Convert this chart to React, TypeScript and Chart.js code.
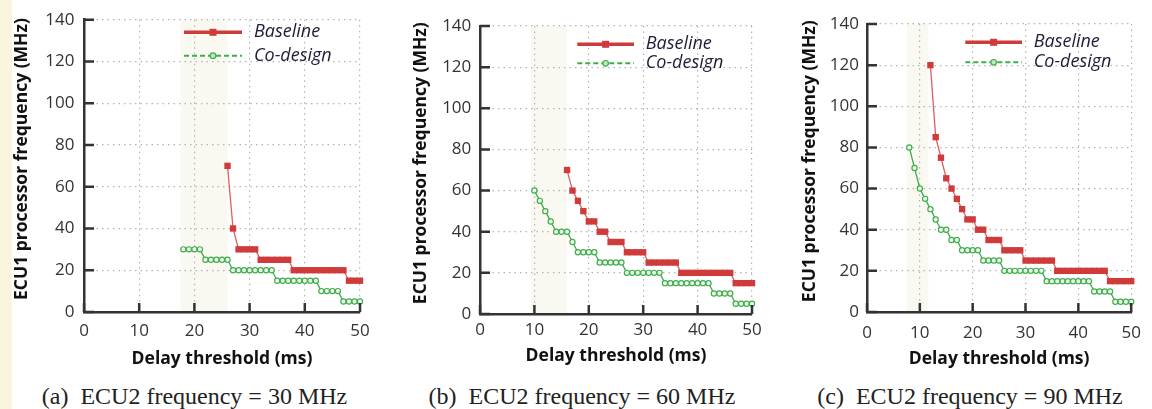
import React, { useEffect, useRef } from 'react';
import { Chart, registerables } from 'chart.js';

Chart.register(...registerables);

// ---------- data ----------
const xTickValues = [0, 10, 20, 30, 40, 50];
const yTickValues = [0, 20, 40, 60, 80, 100, 120, 140];

const baselineA_x = [26, 27, 28, 29, 30, 31, 32, 33, 34, 35, 36, 37, 38, 39, 40, 41, 42, 43, 44, 45, 46, 47, 48, 49, 50];
const baselineA_y = [70, 40, 30, 30, 30, 30, 25, 25, 25, 25, 25, 25, 20, 20, 20, 20, 20, 20, 20, 20, 20, 20, 15, 15, 15];
const codesignA_x = [18, 19, 20, 21, 22, 23, 24, 25, 26, 27, 28, 29, 30, 31, 32, 33, 34, 35, 36, 37, 38, 39, 40, 41, 42, 43, 44, 45, 46, 47, 48, 49, 50];
const codesignA_y = [30, 30, 30, 30, 25, 25, 25, 25, 25, 20, 20, 20, 20, 20, 20, 20, 20, 15, 15, 15, 15, 15, 15, 15, 15, 10, 10, 10, 10, 5, 5, 5, 5];

const baselineB_x = [16, 17, 18, 19, 20, 21, 22, 23, 24, 25, 26, 27, 28, 29, 30, 31, 32, 33, 34, 35, 36, 37, 38, 39, 40, 41, 42, 43, 44, 45, 46, 47, 48, 49, 50];
const baselineB_y = [70, 60, 55, 50, 45, 45, 40, 40, 35, 35, 35, 30, 30, 30, 30, 25, 25, 25, 25, 25, 25, 20, 20, 20, 20, 20, 20, 20, 20, 20, 20, 15, 15, 15, 15];
const codesignB_x = [10, 11, 12, 13, 14, 15, 16, 17, 18, 19, 20, 21, 22, 23, 24, 25, 26, 27, 28, 29, 30, 31, 32, 33, 34, 35, 36, 37, 38, 39, 40, 41, 42, 43, 44, 45, 46, 47, 48, 49, 50];
const codesignB_y = [60, 55, 50, 45, 40, 40, 40, 35, 30, 30, 30, 30, 25, 25, 25, 25, 25, 20, 20, 20, 20, 20, 20, 20, 15, 15, 15, 15, 15, 15, 15, 15, 15, 10, 10, 10, 10, 5, 5, 5, 5];

const baselineC_x = [12, 13, 14, 15, 16, 17, 18, 19, 20, 21, 22, 23, 24, 25, 26, 27, 28, 29, 30, 31, 32, 33, 34, 35, 36, 37, 38, 39, 40, 41, 42, 43, 44, 45, 46, 47, 48, 49, 50];
const baselineC_y = [120, 85, 75, 65, 60, 55, 50, 45, 45, 40, 40, 35, 35, 35, 30, 30, 30, 30, 25, 25, 25, 25, 25, 25, 20, 20, 20, 20, 20, 20, 20, 20, 20, 20, 15, 15, 15, 15, 15];
const codesignC_x = [8, 9, 10, 11, 12, 13, 14, 15, 16, 17, 18, 19, 20, 21, 22, 23, 24, 25, 26, 27, 28, 29, 30, 31, 32, 33, 34, 35, 36, 37, 38, 39, 40, 41, 42, 43, 44, 45, 46, 47, 48, 49, 50];
const codesignC_y = [80, 70, 60, 55, 50, 45, 40, 40, 35, 35, 30, 30, 30, 30, 25, 25, 25, 25, 20, 20, 20, 20, 20, 20, 20, 20, 15, 15, 15, 15, 15, 15, 15, 15, 15, 10, 10, 10, 10, 5, 5, 5, 5];

const bandA = [17.5, 26];
const bandB = [9.3, 16];
const bandC = [7.5, 11.6];

const seriesLabels = ['Baseline', 'Co-design'];
const captions = ['(a)\u2002ECU2 frequency = 30 MHz', '(b)\u2002ECU2 frequency = 60 MHz', '(c)\u2002ECU2 frequency = 90 MHz'];
const xTitle = 'Delay threshold (ms)';
const yTitle = 'ECU1 processor frequency (MHz)';

// ---------- styles ----------
const RED = '#cf3b3b';
const RED_LINE = 'rgba(210,70,70,0.85)';
const GREEN = '#3fae4a';
const GRID = '#b4b4b4';
const AXIS = '#333333';
const CANVAS_H = 380;

type Layout = {
  left: number; width: number;
  plotLeft: number; plotRight: number; plotTop: number; plotBottom: number;
  yTitleX: number; xTitleY: number; xTickY: number; yTickPad: number;
  lgX1: number; lgX2: number; lgY1: number; lgY2: number; lgTX: number;
  capCenter: number;
};

const layouts: Layout[] = [
  { left: 12, width: 372, plotLeft: 84, plotRight: 360, plotTop: 16, plotBottom: 312, yTitleX: 22.5, xTitleY: 359, xTickY: 331.5, yTickPad: 9.5, lgX1: 184, lgX2: 242, lgY1: 32.3, lgY2: 55.7, lgTX: 254, capCenter: 194.5 },
  { left: 384, width: 384, plotLeft: 480, plotRight: 752, plotTop: 26, plotBottom: 314, yTitleX: 421.5, xTitleY: 356, xTickY: 330, yTickPad: 8.7, lgX1: 577.3, lgX2: 634, lgY1: 44.3, lgY2: 63.3, lgTX: 645.7, capCenter: 582 },
  { left: 768, width: 384, plotLeft: 867, plotRight: 1139, plotTop: 24, plotBottom: 312, yTitleX: 809.7, xTitleY: 359.3, xTickY: 333.3, yTickPad: 8, lgX1: 965.3, lgX2: 1022, lgY1: 42.3, lgY2: 62.3, lgTX: 1033.7, capCenter: 970 },
];

const panels = [
  { bx: baselineA_x, by: baselineA_y, cx: codesignA_x, cy: codesignA_y, band: bandA },
  { bx: baselineB_x, by: baselineB_y, cx: codesignB_x, cy: codesignB_y, band: bandB },
  { bx: baselineC_x, by: baselineC_y, cx: codesignC_x, cy: codesignC_y, band: bandC },
];

const TICK_FONT = { family: '"Open Sans", sans-serif', size: 17 };
const TITLE_FONT = { family: '"Open Sans", sans-serif', size: 17.5, weight: 'bold' as const };
const LH_TICK = 17 * 1.2;
const LH_TITLE = 17.5 * 1.2;

function pts(xs: number[], ys: number[]) {
  return xs.map((x, i) => ({ x, y: ys[i] }));
}

function Panel({ idx }: { idx: number }) {
  const ref = useRef<HTMLCanvasElement | null>(null);
  const L = layouts[idx];
  const P = panels[idx];

  useEffect(() => {
    if (!ref.current) return;
    const off = L.left;

    const bandPlugin = {
      id: 'band',
      beforeDraw(chart: any) {
        const { ctx, scales } = chart;
        const x1 = scales.x.getPixelForValue(P.band[0]);
        const x2 = scales.x.getPixelForValue(P.band[1]);
        const y1 = scales.y.getPixelForValue(140);
        const y2 = scales.y.getPixelForValue(0);
        ctx.save();
        ctx.fillStyle = '#f9f9f1';
        ctx.fillRect(x1, y1, x2 - x1, y2 - y1);
        ctx.restore();
      },
    };

    const tickPlugin = {
      id: 'inTicks',
      afterDatasetsDraw(chart: any) {
        const { ctx, scales } = chart;
        const xs = scales.x, ys = scales.y;
        const bottom = ys.getPixelForValue(0);
        const left = xs.getPixelForValue(0);
        ctx.save();
        ctx.strokeStyle = AXIS;
        ctx.lineWidth = 2.5;
        ctx.beginPath();
        xTickValues.forEach((v) => {
          const px = xs.getPixelForValue(v);
          ctx.moveTo(px, bottom);
          ctx.lineTo(px, bottom - 9);
        });
        yTickValues.forEach((v) => {
          const py = ys.getPixelForValue(v);
          ctx.moveTo(left, py);
          ctx.lineTo(left + 10, py);
        });
        ctx.stroke();
        ctx.restore();
      },
    };

    const legendPlugin = {
      id: 'customLegend',
      afterDraw(chart: any) {
        const ctx = chart.ctx;
        const x1 = L.lgX1 - off, x2 = L.lgX2 - off, tx = L.lgTX - off;
        const mid = (x1 + x2) / 2;
        ctx.save();
        // baseline
        ctx.strokeStyle = RED;
        ctx.lineWidth = 3.5;
        ctx.beginPath();
        ctx.moveTo(x1, L.lgY1);
        ctx.lineTo(x2, L.lgY1);
        ctx.stroke();
        ctx.fillStyle = RED;
        ctx.fillRect(mid - 3.5, L.lgY1 - 3.5, 7, 7);
        // codesign
        ctx.strokeStyle = GREEN;
        ctx.lineWidth = 2;
        ctx.setLineDash([5, 3]);
        ctx.beginPath();
        ctx.moveTo(x1, L.lgY2);
        ctx.lineTo(x2, L.lgY2);
        ctx.stroke();
        ctx.setLineDash([]);
        ctx.beginPath();
        ctx.arc(mid, L.lgY2, 2.8, 0, Math.PI * 2);
        ctx.fillStyle = '#bfe6c2';
        ctx.fill();
        ctx.lineWidth = 1.2;
        ctx.stroke();
        // text
        ctx.font = 'italic 18px "Open Sans", sans-serif';
        ctx.fillStyle = '#1d1d38';
        ctx.textBaseline = 'middle';
        ctx.textAlign = 'left';
        ctx.fillText(seriesLabels[0], tx, L.lgY1);
        ctx.fillText(seriesLabels[1], tx, L.lgY2);
        ctx.restore();
      },
    };

    const yScaleWidth = L.plotLeft - off;
    const xScaleHeight = CANVAS_H - L.plotBottom;

    const chart = new Chart(ref.current, {
      type: 'line',
      data: {
        datasets: [
          {
            label: seriesLabels[0],
            data: pts(P.bx, P.by),
            borderColor: RED_LINE,
            backgroundColor: RED,
            borderWidth: 1.3,
            pointStyle: 'rect',
            pointRadius: 4.5,
            pointBackgroundColor: RED,
            pointBorderColor: RED,
            pointBorderWidth: 0,
            tension: 0,
            clip: false as any,
          },
          {
            label: seriesLabels[1],
            data: pts(P.cx, P.cy),
            borderColor: GREEN,
            backgroundColor: GREEN,
            borderWidth: 1.3,
            pointStyle: 'circle',
            pointRadius: 2.6,
            pointBackgroundColor: 'rgba(255,255,255,0.85)',
            pointBorderColor: GREEN,
            pointBorderWidth: 1.2,
            tension: 0,
            clip: false as any,
          },
        ],
      },
      options: {
        animation: false,
        responsive: false,
        maintainAspectRatio: false,
        events: [],
        layout: { padding: { top: L.plotTop, right: L.left + L.width - L.plotRight, left: 0, bottom: 0 } },
        plugins: { legend: { display: false }, tooltip: { enabled: false }, title: { display: false } },
        scales: {
          x: {
            type: 'linear',
            min: 0,
            max: 50,
            afterFit: (s: any) => { s.height = xScaleHeight; },
            ticks: {
              stepSize: 10,
              padding: L.xTickY - L.plotBottom - LH_TICK / 2,
              color: '#333',
              font: TICK_FONT,
            },
            grid: { color: GRID, lineWidth: 1.2, drawTicks: false },
            border: { display: true, color: AXIS, width: 2.5, dash: [1.5, 4] },
            title: {
              display: true,
              text: xTitle,
              color: '#111',
              font: TITLE_FONT,
              padding: { top: 0, bottom: CANVAS_H - L.xTitleY - LH_TITLE / 2 },
            },
          },
          y: {
            type: 'linear',
            min: 0,
            max: 140,
            afterFit: (s: any) => { s.width = yScaleWidth; },
            ticks: {
              stepSize: 20,
              padding: L.yTickPad,
              color: '#333',
              font: TICK_FONT,
            },
            grid: { color: GRID, lineWidth: 1.2, drawTicks: false },
            border: { display: true, color: AXIS, width: 2.5, dash: [1.5, 4] },
            title: {
              display: true,
              text: '   ' + yTitle,
              color: '#111',
              font: TITLE_FONT,
              padding: { top: Math.max(0, L.yTitleX - off - LH_TITLE / 2), bottom: 0 },
            },
          },
        },
      } as any,
      plugins: [bandPlugin, tickPlugin, legendPlugin],
    });
    return () => chart.destroy();
  }, []);

  return (
    <canvas
      ref={ref}
      width={L.width}
      height={CANVAS_H}
      style={{ position: 'absolute', left: L.left, top: 0, width: L.width, height: CANVAS_H }}
    />
  );
}

export default function App() {
  return (
    <div style={{ position: 'fixed', left: 0, top: 0, width: 1152, height: 409, background: '#ffffff', overflow: 'hidden' }}>
      <div style={{ position: 'absolute', left: 0, top: 0, width: 12, height: 409, background: '#f9f5df' }} />
      {layouts.map((_, i) => (
        <Panel key={i} idx={i} />
      ))}
      {layouts.map((L, i) => (
        <div
          key={'c' + i}
          style={{
            position: 'absolute',
            left: L.capCenter - 190,
            width: 380,
            top: 382,
            textAlign: 'center',
            fontFamily: '"Liberation Serif", serif',
            fontSize: 24,
            lineHeight: '28px',
            color: '#222',
            whiteSpace: 'nowrap',
          }}
        >
          {captions[i]}
        </div>
      ))}
    </div>
  );
}
